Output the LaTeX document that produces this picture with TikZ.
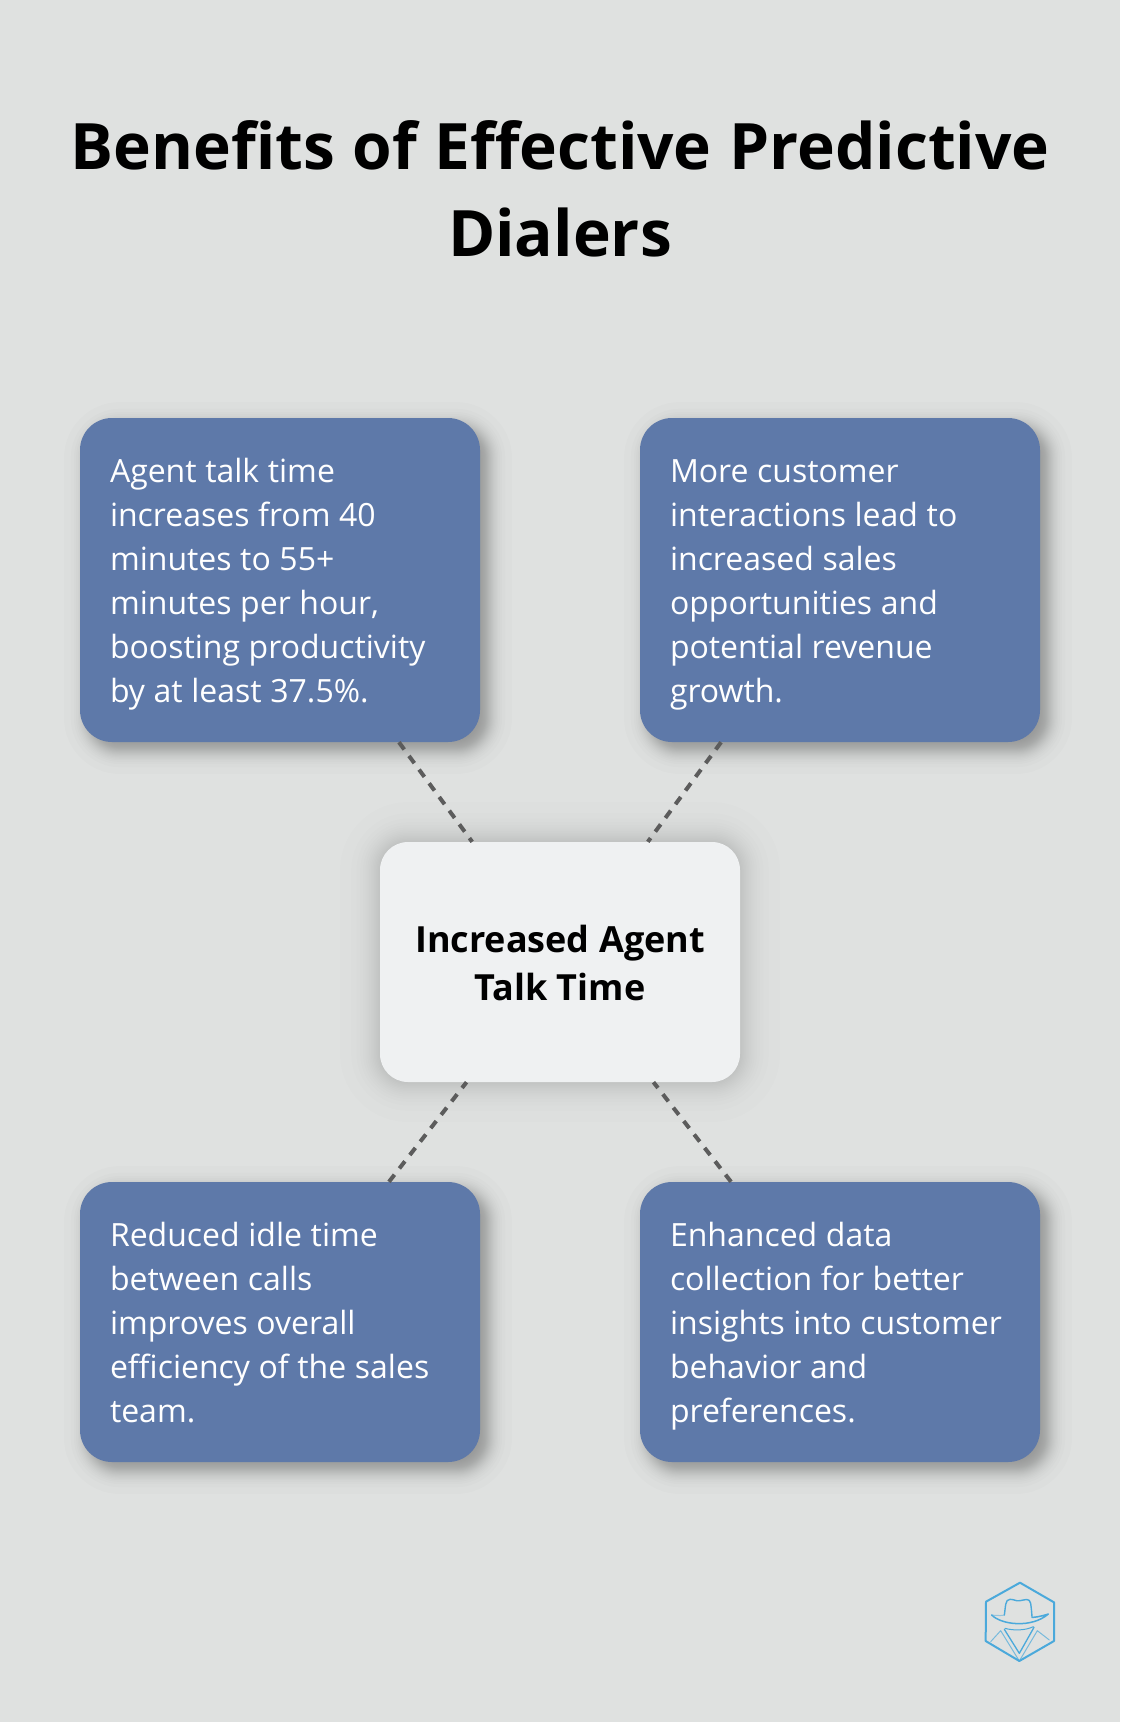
\documentclass[tikz,border=0pt]{standalone}
\usepackage{fontspec}
\setmainfont{Open Sans}
\definecolor{bgc}{HTML}{DFE1E0}
\definecolor{boxc}{HTML}{5E79A9}
\definecolor{midc}{HTML}{EFF1F2}
\definecolor{dashc}{HTML}{5C5C5C}
\definecolor{logoc}{HTML}{4BA9DB}
\newcommand{\softshadow}[7]{% x1 y1 x2 y2 radius blur alpha
  \foreach \k in {1,...,30}{
    \pgfmathsetmacro{\uu}{(\k-0.5)/30}
    \pgfmathsetmacro{\dd}{#6/4.08*ln(\uu/(1-\uu))}
    \pgfmathsetmacro{\rr}{max(3,#5+\dd)}
    \fill[black,opacity=#7,rounded corners=\rr pt]
      ({#1-\dd},{#2-\dd}) rectangle ({#3+\dd},{#4+\dd});
  }}
\newcommand{\cardopen}{\setlength{\spaceskip}{8.6pt}\rule{0pt}{38.8pt}}
\newcommand{\hubopen}{\setlength{\spaceskip}{9.4pt}\rule{0pt}{43.6pt}}
\newcommand{\titleopen}{\setlength{\spaceskip}{17.4pt}}
\tikzset{
  x=1pt,y=-1pt,
  card/.style={draw=none,fill=boxc,rounded corners=32pt,minimum width=400pt,
    inner xsep=30pt,inner ysep=0pt,text width=340pt,align=left,text=white,
    font=\fontsize{32}{44}\selectfont},
  hub/.style={draw=none,fill=midc,rounded corners=28pt,minimum width=360pt,minimum height=240pt,
    inner sep=0pt,text width=340pt,align=center,text=black,
    font=\fontsize{36}{48}\selectfont\bfseries},
  link/.style={draw=dashc,line width=4pt,dash pattern=on 9pt off 8pt},
  logoline/.style={draw=logoc,line join=round,line cap=round},
}
\begin{document}
\begin{tikzpicture}
\useasboundingbox (0,0) rectangle (1120,1722);
\fill[bgc] (0,0) rectangle (1120,1722);
\node[text width=1100pt,align=center,text=black,inner sep=0pt,
  font=\fontsize{64}{87}\selectfont\bfseries] (title) at (560,189) {\titleopen Benefits of Effective Predictive\\Dialers};
\softshadow{88}{426}{488}{750}{32}{24}{0.012}
\softshadow{648}{426}{1048}{750}{32}{24}{0.012}
\softshadow{88}{1190}{488}{1470}{32}{24}{0.012}
\softshadow{648}{1190}{1048}{1470}{32}{24}{0.012}
\softshadow{380}{842}{740}{1082}{28}{40}{0.009}
\node[card,minimum height=324pt] (a) at (280,580) {\cardopen Agent talk time\\increases from 40\\minutes to 55+\\minutes per hour,\\boosting productivity\\by at least 37.5\%.\strut};
\node[card,minimum height=324pt] (b) at (840,580) {\cardopen More customer\\interactions lead to\\increased sales\\opportunities and\\potential revenue\\growth.\strut};
\node[card,minimum height=280pt] (c) at (280,1322) {\cardopen Reduced idle time\\between calls\\improves overall\\efficiency of the sales\\team.\strut};
\node[card,minimum height=280pt] (d) at (840,1322) {\cardopen Enhanced data\\collection for better\\insights into customer\\behavior and\\preferences.\strut};
\node[hub] (m) at (560,962) {\hubopen Increased Agent\\Talk Time\strut};
\draw[link] (a) -- (m);
\draw[link] (b) -- (m);
\draw[link] (c) -- (m);
\draw[link] (d) -- (m);
\begin{scope}[shift={(960,1560)},x=0.3333pt,y=-0.3333pt]
\draw[logoline,line width=2pt] (180,68)--(282,127)--(282,243)--(178,303)--(77,243)--(78,125)--cycle;
\draw[logoline,line width=1.4pt] (133,165) .. controls (137,140) and (135,118) .. (150,118) .. controls (165,118) and (165,124) .. (180,122) .. controls (195,120) and (208,112) .. (212,130) .. controls (214,145) and (215,155) .. (216,170);
\draw[logoline,line width=1.5pt] (95,165) .. controls (125,195) and (215,205) .. (265,162) .. controls (240,170) and (225,172) .. (216,172);
\draw[logoline,line width=1pt,draw opacity=.5] (95,165) .. controls (120,168) and (130,166) .. (133,165);
\draw[logoline,line width=1pt] (135,205) .. controls (160,212) and (195,212) .. (220,200);
\draw[logoline,line width=1.3pt] (133,208) -- (178,280) -- (222,202);
\draw[logoline,line width=1pt,draw opacity=.7] (92,245) -- (122,212) -- (178,303) -- (232,212) -- (268,240);
\end{scope}
\end{tikzpicture}
\end{document}
